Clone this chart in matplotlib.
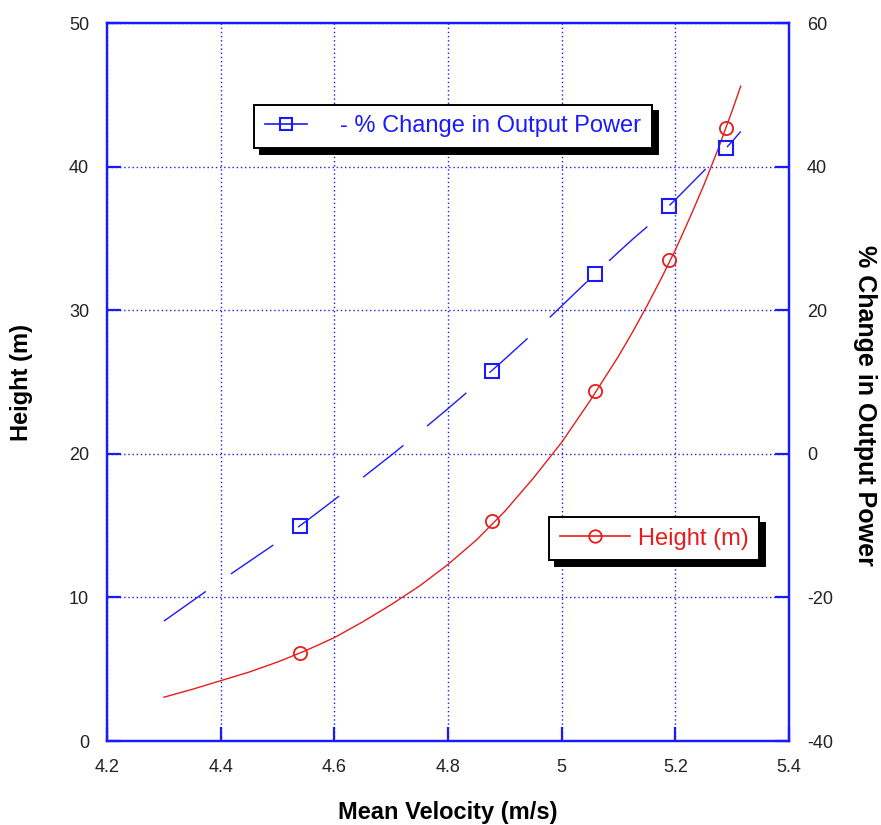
import matplotlib.pyplot as plt
from matplotlib.lines import Line2D

plt.rcParams['font.family'] = ['Liberation Sans', 'DejaVu Sans']
plt.rcParams['axes.unicode_minus'] = False

# Datos ---------------------------------------------------
vel_puntos = [4.54, 4.877, 5.059, 5.189, 5.289]
altura_puntos = [6.1, 15.3, 24.4, 33.5, 42.7]
potencia_puntos = [-10.0, 11.6, 25.0, 34.5, 42.6]

vel_curva = [4.30, 4.35, 4.40, 4.45, 4.50, 4.55, 4.60, 4.65, 4.70, 4.75, 4.80,
             4.85, 4.90, 4.95, 5.00, 5.05, 5.10, 5.125, 5.15, 5.175, 5.20,
             5.225, 5.25, 5.275, 5.30, 5.315]
altura_curva = [3.05, 3.6, 4.2, 4.8, 5.5, 6.3, 7.2, 8.3, 9.5, 10.8, 12.3,
                14.0, 16.0, 18.3, 20.8, 23.7, 26.8, 28.5, 30.3, 32.2, 34.2,
                36.4, 38.7, 41.2, 43.9, 45.6]
potencia_curva = [-23.3, -20.5, -17.7, -15.0, -12.3, -9.4, -6.4, -3.3, -0.2, 3.0, 6.3,
                  9.7, 13.2, 16.8, 20.6, 24.4, 28.1, 29.9, 31.6, 33.5, 35.4,
                  37.4, 39.4, 41.4, 43.5, 44.9]

x_ticks = [4.2, 4.4, 4.6, 4.8, 5.0, 5.2, 5.4]
x_labels = ['4.2', '4.4', '4.6', '4.8', '5', '5.2', '5.4']
y_ticks = [0, 10, 20, 30, 40, 50]
y2_ticks = [-40, -20, 0, 20, 40, 60]

azul = '#1a1aff'
rojo = '#e81c1c'

# Figura --------------------------------------------------
fig = plt.figure(figsize=(8.81, 8.25), dpi=100)
ax = fig.add_axes([0.1215, 0.1018, 0.7741, 0.8703])
ax2 = ax.twinx()

ax.set_xlim(4.2, 5.4)
ax.set_ylim(0, 50)
ax2.set_ylim(-40, 60)

ax.set_xticks(x_ticks)
ax.set_xticklabels(x_labels)
ax.set_yticks(y_ticks)
ax2.set_yticks(y2_ticks)

for a in (ax, ax2):
    for s in a.spines.values():
        s.set_color(azul)
        s.set_linewidth(1.6)
    a.tick_params(direction='in', length=10, width=1.6, color=azul,
                  labelsize=13, labelcolor='#222222', pad=13)
ax.tick_params(axis='y', right=False)

ax.grid(True, color=azul, linestyle=(0, (1, 2)), linewidth=1.0)
ax.set_axisbelow(True)

# curvas
ax.plot(vel_curva, altura_curva, color=rojo, lw=1.0)
ax.plot(vel_puntos, altura_puntos, 'o', mfc='none', mec=rojo, ms=9.5, mew=1.3)

ax2.plot(vel_curva, potencia_curva, color=azul, lw=1.0, dashes=(37, 22))
ax2.plot(vel_puntos, potencia_puntos, 's', mfc='none', mec=azul, ms=9.5, mew=1.5)

# etiquetas
ax.set_xlabel('Mean Velocity (m/s)', fontsize=17, fontweight='bold', labelpad=18)
ax.set_ylabel('Height (m)', fontsize=17, fontweight='bold', labelpad=26)
ax2.set_ylabel('% Change in Output Power', fontsize=18, fontweight='bold',
               rotation=-90, ha='center', va='center')
ax2.yaxis.set_label_coords(1.111, 0.468)

# leyendas
sombra = {'color': 'black', 'alpha': 1, 'ox': 4.5, 'oy': -4.5}
h_azul = Line2D([], [], color=azul, lw=1.2, marker='s', mfc='none', mec=azul, ms=9, mew=1.5)
leg1 = ax2.legend([h_azul], ['- % Change in Output Power'], loc='upper left',
                  bbox_to_anchor=(0.2155, 0.886), borderaxespad=0, fontsize=17,
                  labelcolor=azul, frameon=True, fancybox=False, shadow=sombra,
                  framealpha=1, edgecolor='black', handlelength=1.8,
                  handletextpad=1.4, borderpad=0.45)
leg1.get_frame().set_linewidth(1.4)

h_rojo = Line2D([], [], color=rojo, lw=1.2, marker='o', mfc='none', mec=rojo, ms=9, mew=1.3)
leg2 = ax2.legend([h_rojo], ['Height (m)'], loc='upper left',
                  bbox_to_anchor=(0.648, 0.312), borderaxespad=0, fontsize=17,
                  labelcolor=rojo, frameon=True, fancybox=False, shadow=sombra,
                  framealpha=1, edgecolor='black', handlelength=3.0,
                  handletextpad=0.3, borderpad=0.45)
leg2.get_frame().set_linewidth(1.4)
ax2.add_artist(leg1)

fig.savefig('out.png', dpi=100)
